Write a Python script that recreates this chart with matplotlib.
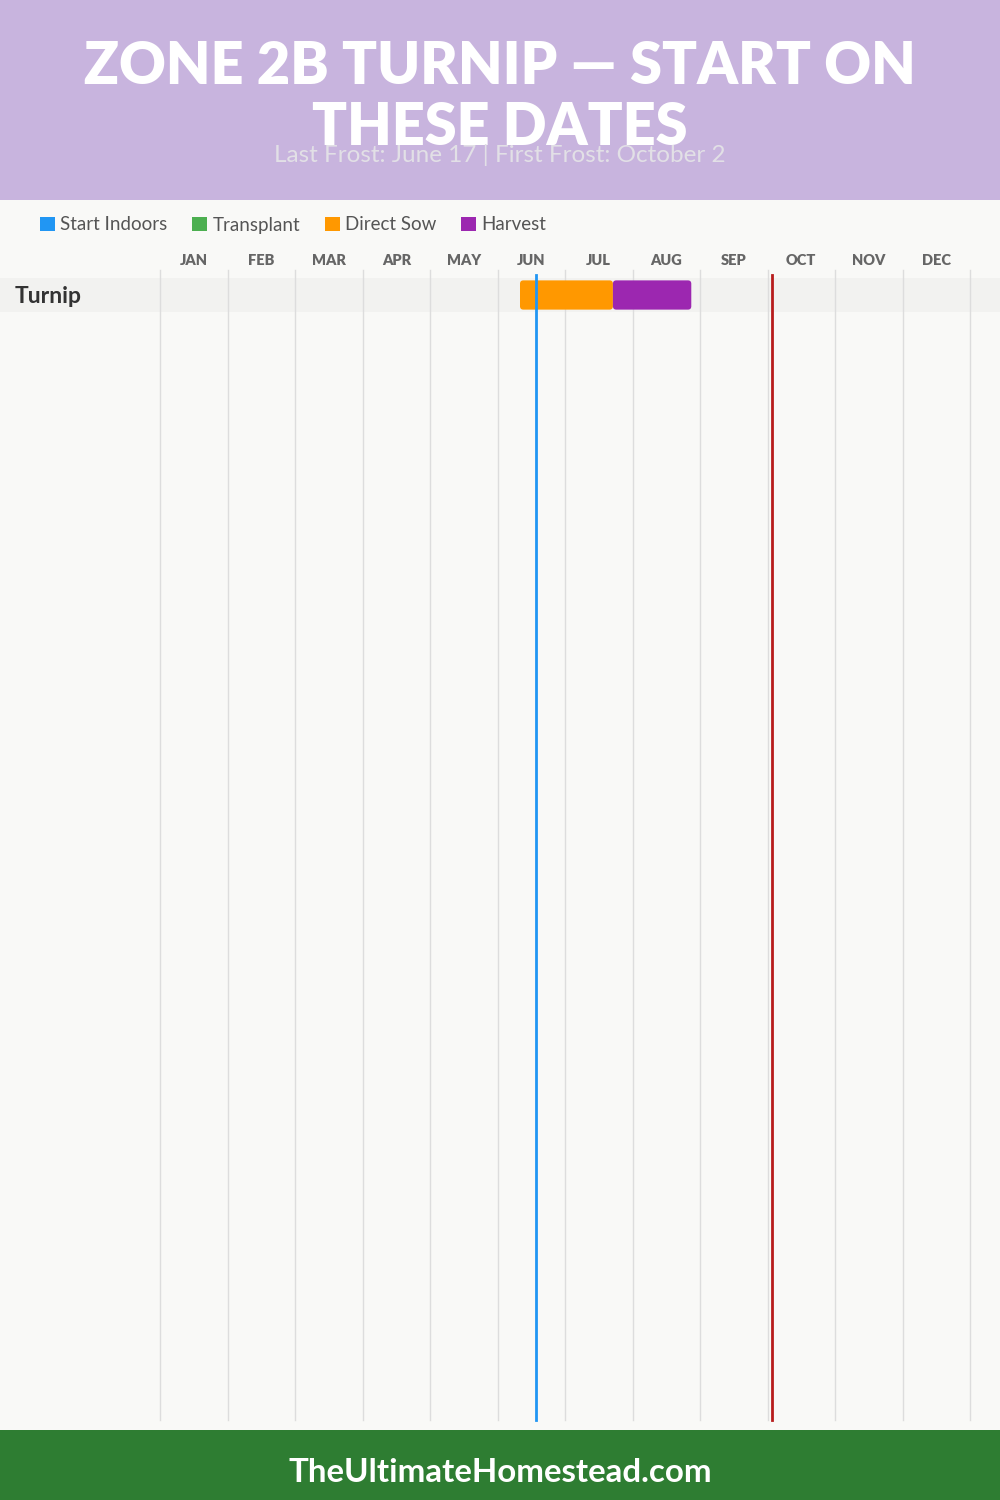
import matplotlib
matplotlib.use("Agg")
import matplotlib.pyplot as plt
from matplotlib.patches import FancyBboxPatch, Patch, Rectangle

# data
months = ["JAN", "FEB", "MAR", "APR", "MAY", "JUN", "JUL", "AUG", "SEP", "OCT", "NOV", "DEC"]
days_in_month = [31, 28, 31, 30, 31, 30, 31, 31, 30, 31, 30, 31]
crops = ["Turnip"]
# (crop, activity, start (month, day), end (month, day))
tasks = [
    ("Turnip", "Direct Sow", (6, 10), (7, 22)),
    ("Turnip", "Harvest", (7, 22), (8, 27)),
]
last_frost = (6, 17)
first_frost = (10, 2)
activities = ["Start Indoors", "Transplant", "Direct Sow", "Harvest"]
activity_colors = ["#2196F3", "#4CAF50", "#FF9800", "#9C27B0"]

title = "ZONE 2B TURNIP — START ON\nTHESE DATES"
subtitle = "Last Frost: June 17 | First Frost: October 2"
footer = "TheUltimateHomestead.com"

FONT = ["Lato", "DejaVu Sans"]


def mpos(md):
    m, d = md
    return (m - 1) + d / days_in_month[m - 1]


W, H = 1000, 1500
fig = plt.figure(figsize=(10, 15), dpi=100)
fig.patch.set_facecolor("#F9F9F7")

# header and footer bands
hdr = fig.add_axes([0, 1 - 200 / H, 1, 200 / H])
hdr.set_facecolor("#C8B4DE")
hdr.set_xticks([]); hdr.set_yticks([])
for s in hdr.spines.values():
    s.set_visible(False)
hdr.text(0.5, 0.515, title, ha="center", va="center", color="white",
         fontsize=41.5, fontweight="heavy", family=FONT,
         linespacing=1.2, transform=hdr.transAxes)
hdr.text(0.5, 0.225, subtitle, ha="center", va="center", color="#E2E0E6",
         fontsize=17.5, family=FONT, transform=hdr.transAxes)

ftr = fig.add_axes([0, 0, 1, 70 / H])
ftr.set_facecolor("#2E7D32")
ftr.set_xticks([]); ftr.set_yticks([])
for s in ftr.spines.values():
    s.set_visible(False)
ftr.text(0.5, 0.40, footer, ha="center", va="center", color="white",
         fontsize=23.8, fontweight="bold", family=FONT,
         transform=ftr.transAxes)

# main chart area: x in months, y in rows
px_month = 67.5
left_px = 160
row_px = 34
ax = fig.add_axes([0, 70 / H, 1, 1230 / H])
ax.set_facecolor("none")
ax.set_xlim(-left_px / px_month, (W - left_px) / px_month)
ax.set_ylim((1430 - 295) / row_px, -95 / row_px)
ax.axis("off")

# row bands and labels
x_lo, x_hi = ax.get_xlim()
for i, crop in enumerate(crops):
    ax.add_patch(Rectangle((x_lo, i - 0.5), x_hi - x_lo, 1,
                           facecolor="#F2F2F0", edgecolor="none", zorder=0))
    ax.text(-145 / px_month, i + 0.04, crop, ha="left", va="center", fontsize=16.5,
            fontweight="bold", color="#333333", family=FONT)

# month grid + labels
y_bottom = (1420 - 295) / row_px
for k in range(13):
    ax.plot([k, k], [-25 / row_px, y_bottom], color="#DDDDDD", lw=1, zorder=1)
for k, m in enumerate(months):
    ax.text(k + 0.5, -35 / row_px, m, ha="center", va="center", fontsize=10.5,
            fontweight="heavy", color="#666666", family=FONT)

# bars
color_of = dict(zip(activities, activity_colors))
for crop, act, s, e in tasks:
    i = crops.index(crop)
    x0, x1 = mpos(s), mpos(e)
    ax.add_patch(FancyBboxPatch((x0, i - 0.43), x1 - x0, 0.86,
                                boxstyle="round,pad=0,rounding_size=0.05",
                                mutation_aspect=px_month / row_px,
                                facecolor=color_of[act], edgecolor="none", zorder=2))

# frost lines
ax.plot([mpos(last_frost)] * 2, [-20 / row_px, y_bottom], color="#2196F3", lw=2, zorder=3)
ax.plot([mpos(first_frost)] * 2, [-20 / row_px, y_bottom], color="#B71C1C", lw=2, zorder=3)

# legend
handles = [Patch(facecolor=c, edgecolor="none", label=a) for a, c in zip(activities, activity_colors)]
leg = fig.legend(handles=handles, loc="center left", bbox_to_anchor=(40 / W, 1 - 225 / H),
                 ncol=4, frameon=False, handlelength=0.8, handleheight=0.8,
                 handletextpad=0.27, columnspacing=1.33, borderpad=0, borderaxespad=0,
                 prop={"family": FONT, "size": 13.5})
for t in leg.get_texts():
    t.set_color("#555555")

fig.savefig("out.png", dpi=100, facecolor=fig.get_facecolor())
